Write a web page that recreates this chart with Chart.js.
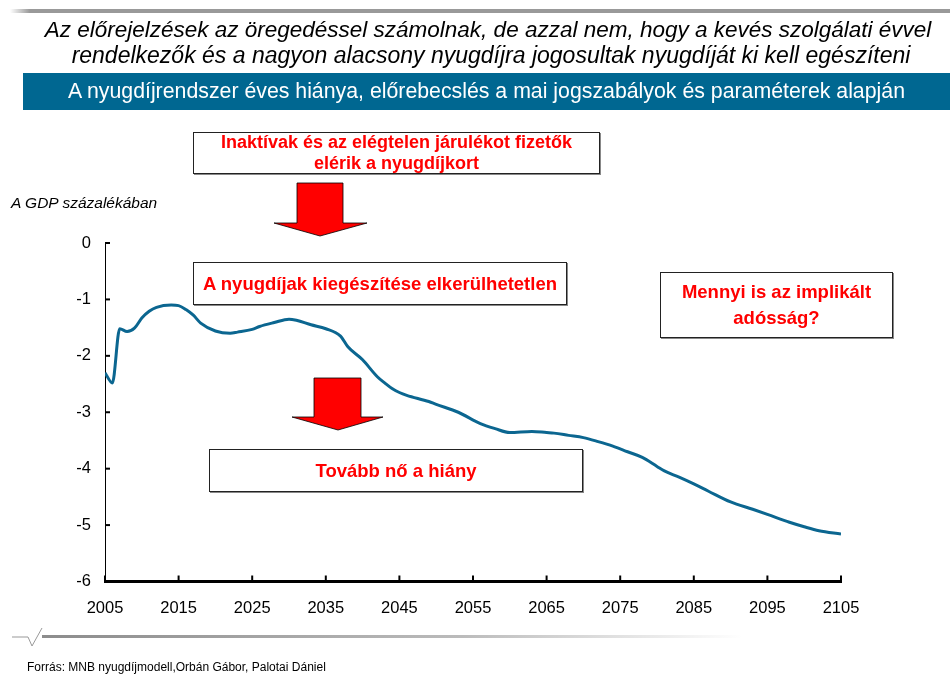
<!DOCTYPE html>
<html lang="hu">
<head>
<meta charset="utf-8">
<title>A nyugdíjrendszer éves hiánya</title>
<script src="https://cdn.jsdelivr.net/npm/chart.js@4.4.1/dist/chart.umd.min.js"></script>
<style>
    body { margin: 0; background: #fff; font-family: "Liberation Sans", Arial, sans-serif; }
    #wrap { position: relative; width: 950px; height: 675px; overflow: hidden; }
    #chart { position: absolute; left: 0; top: 0; }
    .topbar { position: absolute; left: 10px; top: 9px; width: 940px; height: 4px;
              background: linear-gradient(to right, #fff 0, #999 20px, #999 100%); }
    .title { position: absolute; left: 13px; width: 950px; text-align: center; font-style: italic;
             font-size: 22.5px; color: #000; line-height: 26px; white-space: nowrap; }
    .banner { position: absolute; left: 23px; top: 73px; width: 927px; height: 37px; background: #006791;
              color: #fff; font-size: 21.3px; line-height: 37px; text-align: center; white-space: nowrap; }
    .ylabel { position: absolute; left: 11px; top: 194px; font-style: italic; font-size: 15.5px; }
    .box { position: absolute; background: #fff; border: 1px solid #222; box-shadow: 1px 1px 0 #888;
           color: #ff0000; font-weight: bold; text-align: center; box-sizing: border-box;
           display: flex; align-items: center; justify-content: center; white-space: nowrap; }
    .source { position: absolute; left: 27px; top: 660px; font-size: 12px; color: #000; }
    svg { position: absolute; left: 0; top: 0; }
</style>
</head>
<body>
<div id="wrap">
    <canvas id="chart" width="950" height="675"></canvas>

    <div class="topbar"></div>
    <div class="title" style="top:17px">Az előrejelzések az öregedéssel számolnak, de azzal nem, hogy a kevés szolgálati évvel</div>
    <div class="title" style="top:42px; font-size:23px; left:16px">rendelkezők és a nagyon alacsony nyugdíjra jogosultak nyugdíját ki kell egészíteni</div>
    <div class="banner">A nyugdíjrendszer éves hiánya, előrebecslés a mai jogszabályok és paraméterek alapján</div>
    <div class="ylabel">A GDP százalékában</div>

    <div class="box" style="left:193px; top:132px; width:407px; height:42px; font-size:18px; line-height:21px;">Inaktívak és az elégtelen járulékot fizetők<br>elérik a nyugdíjkort</div>
    <div class="box" style="left:193px; top:262px; width:374px; height:43px; font-size:18.5px;">A nyugdíjak kiegészítése elkerülhetetlen</div>
    <div class="box" style="left:660px; top:272px; width:233px; height:66px; font-size:18.5px; line-height:26px;">Mennyi is az implikált<br>adósság?</div>
    <div class="box" style="left:209px; top:449px; width:374px; height:43px; font-size:18.5px;">Tovább nő a hiány</div>

    <svg width="950" height="675">
        <polygon points="297,183 343,183 343,223 367,223 320,236 274,223 297,223" fill="#ff0000" stroke="#000" stroke-width="0.8"/>
        <polygon points="314,378 361,378 361,417 383,417 338,430 292,417 314,417" fill="#ff0000" stroke="#000" stroke-width="0.8"/>
        <defs>
            <linearGradient id="fade" x1="0" x2="1" y1="0" y2="0">
                <stop offset="0" stop-color="#8c8c8c"/>
                <stop offset="0.6" stop-color="#bbbbbb"/>
                <stop offset="1" stop-color="#ffffff"/>
            </linearGradient>
        </defs>
        <polyline points="12,637 28,637 32,646 42,628" fill="none" stroke="#999" stroke-width="1"/>
        <rect x="42" y="635" width="700" height="3" fill="url(#fade)"/>
    </svg>

    <div class="source">Forrás: MNB nyugdíjmodell,Orbán Gábor, Palotai Dániel</div>
</div>

<script>
// Évek és a nyugdíjrendszer egyenlege (GDP %)
const years = [2005, 2006, 2007, 2008, 2009, 2010, 2011, 2012, 2014, 2015, 2016, 2017, 2018, 2020,
    2022, 2023, 2025, 2026, 2028, 2030, 2031, 2033, 2035, 2037, 2038, 2040, 2042, 2043, 2044, 2045,
    2046, 2049, 2050, 2053, 2056, 2058, 2060, 2063, 2065, 2066, 2068, 2070, 2072, 2074, 2076, 2078,
    2080, 2081, 2083, 2085, 2087, 2090, 2093, 2095, 2098, 2100, 2102, 2105];
const deficit = [-2.30, -2.48, -1.52, -1.57, -1.51, -1.33, -1.21, -1.14, -1.10, -1.11, -1.18, -1.28, -1.42, -1.56,
    -1.60, -1.58, -1.53, -1.48, -1.41, -1.35, -1.37, -1.45, -1.52, -1.65, -1.84, -2.07, -2.37, -2.48, -2.58, -2.65,
    -2.70, -2.81, -2.86, -3.00, -3.20, -3.29, -3.36, -3.34, -3.36, -3.37, -3.41, -3.45, -3.52, -3.60, -3.70, -3.80,
    -3.96, -4.04, -4.15, -4.27, -4.40, -4.59, -4.72, -4.81, -4.95, -5.03, -5.10, -5.16];
const xTicks = [2005, 2015, 2025, 2035, 2045, 2055, 2065, 2075, 2085, 2095, 2105];
const yTicks = [0, -1, -2, -3, -4, -5, -6];

const AXIS_FONT = { family: '"Liberation Sans", Arial, sans-serif', size: 16.5 };

/**
 * Befelé mutató osztásjelek a tengelyeken
 */
const innerTicks = {
    id: 'innerTicks',
    afterDraw(chart) {
        const { ctx, chartArea, scales } = chart;
        ctx.save();
        ctx.strokeStyle = '#000';
        ctx.lineWidth = 2;
        xTicks.forEach(t => {
            const px = scales.x.getPixelForValue(t);
            ctx.beginPath();
            ctx.moveTo(px, chartArea.bottom);
            ctx.lineTo(px, chartArea.bottom - 6);
            ctx.stroke();
        });
        yTicks.forEach(t => {
            const py = scales.y.getPixelForValue(t);
            ctx.beginPath();
            ctx.moveTo(chartArea.left, py);
            ctx.lineTo(chartArea.left + 5, py);
            ctx.stroke();
        });
        ctx.restore();
    }
};

new Chart(document.getElementById('chart'), {
    type: 'line',
    data: {
        datasets: [{
            data: years.map((y, i) => ({ x: y, y: deficit[i] })),
            borderColor: '#0b6690',
            borderWidth: 3,
            pointRadius: 0,
            cubicInterpolationMode: 'monotone',
            fill: false
        }]
    },
    options: {
        responsive: false,
        animation: false,
        layout: {
            padding: { left: 0, right: 109, top: 243, bottom: 0 }
        },
        scales: {
            x: {
                type: 'linear',
                min: 2005,
                max: 2105,
                afterBuildTicks: scale => { scale.ticks = xTicks.map(v => ({ value: v })); },
                afterFit: scale => { scale.height = 675 - 581.5; },
                ticks: {
                    font: AXIS_FONT,
                    color: '#000',
                    padding: 9,
                    maxRotation: 0,
                    autoSkip: false,
                    callback: v => String(v)
                },
                grid: { display: false },
                border: { display: true, color: '#000', width: 3 }
            },
            y: {
                min: -6,
                max: 0,
                afterBuildTicks: scale => { scale.ticks = yTicks.map(v => ({ value: v })); },
                afterFit: scale => { scale.width = 105; },
                ticks: {
                    font: AXIS_FONT,
                    color: '#000',
                    padding: 6,
                    callback: v => String(v)
                },
                grid: { display: false },
                border: { display: true, color: '#000', width: 1 }
            }
        },
        plugins: {
            legend: { display: false },
            tooltip: { enabled: false }
        }
    },
    plugins: [innerTicks]
});
</script>
</body>
</html>
